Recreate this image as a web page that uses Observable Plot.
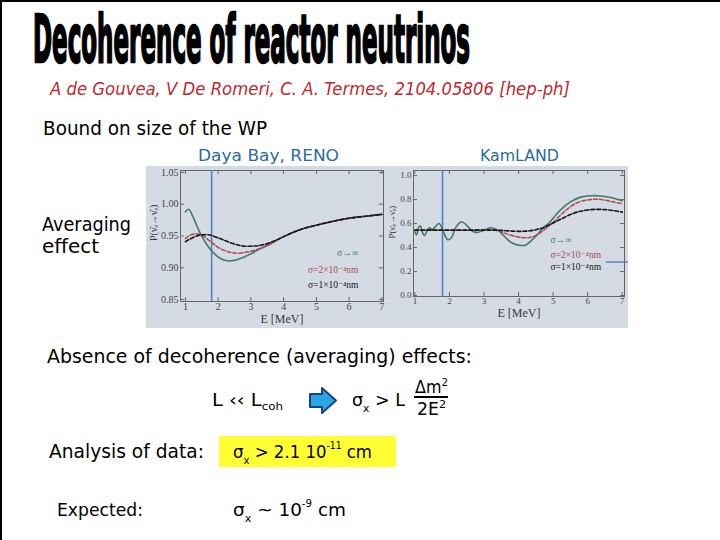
<!DOCTYPE html>
<html><head><meta charset="utf-8">
<script src="https://cdn.jsdelivr.net/npm/d3@7"></script>
<script src="https://cdn.jsdelivr.net/npm/@observablehq/plot@0.6"></script>
<style>
body{margin:0;background:#fff}
#slide{position:relative;width:720px;height:540px;overflow:hidden;background:#fff}
#slide > svg{position:absolute}
</style></head><body><div id="slide"></div>
<script>
// ---- data ----
// Left panel (Daya Bay, RENO)
const leftE    = [1.0, 1.1, 1.25, 1.4, 1.55, 1.7, 1.85, 2.0, 2.2, 2.4, 2.6, 2.8, 3.0, 3.25, 3.5, 3.75, 4.0, 4.5, 5.0, 5.5, 6.0, 6.5, 7.0];
const leftInf  = [0.988, 0.992, 0.978, 0.960, 0.945, 0.933, 0.924, 0.917, 0.912, 0.911, 0.913, 0.917, 0.922, 0.929, 0.935, 0.942, 0.949, 0.960, 0.967, 0.973, 0.978, 0.981, 0.984];
const left2e4  = [0.946, 0.950, 0.953, 0.953, 0.950, 0.944, 0.938, 0.932, 0.927, 0.924, 0.923, 0.924, 0.926, 0.930, 0.935, 0.942, 0.949, 0.960, 0.967, 0.973, 0.978, 0.981, 0.984];
const left1e4  = [0.941, 0.944, 0.948, 0.951, 0.952, 0.952, 0.950, 0.947, 0.943, 0.939, 0.936, 0.934, 0.934, 0.935, 0.938, 0.943, 0.949, 0.960, 0.967, 0.973, 0.978, 0.981, 0.984];
// Right panel (KamLAND)
const rightEInf = [1.00, 1.05, 1.11, 1.16, 1.22, 1.28, 1.35, 1.42, 1.50, 1.58, 1.70, 1.82, 1.95, 2.05, 2.2, 2.35, 2.5, 2.65, 2.8, 3.0, 3.2, 3.4, 3.6, 3.8, 4.0, 4.2, 4.45, 4.7, 4.9, 5.2, 5.5, 5.8, 6.1, 6.4, 6.7, 7.0];
const rightInf  = [0.53, 0.505, 0.57, 0.58, 0.525, 0.50, 0.54, 0.565, 0.55, 0.57, 0.60, 0.535, 0.465, 0.48, 0.575, 0.615, 0.585, 0.54, 0.525, 0.545, 0.565, 0.545, 0.49, 0.44, 0.42, 0.42, 0.48, 0.56, 0.61, 0.71, 0.78, 0.82, 0.832, 0.83, 0.815, 0.79];
const rightE    = [1.0, 1.5, 2.0, 2.5, 3.0, 3.25, 3.5, 3.75, 4.0, 4.25, 4.5, 4.75, 5.0, 5.25, 5.5, 5.75, 6.0, 6.25, 6.5, 6.75, 7.0];
const right2e4  = [0.545, 0.545, 0.545, 0.545, 0.547, 0.55, 0.53, 0.505, 0.488, 0.482, 0.50, 0.55, 0.61, 0.68, 0.74, 0.78, 0.797, 0.803, 0.795, 0.78, 0.765];
const right1e4  = [0.545, 0.545, 0.545, 0.545, 0.545, 0.545, 0.543, 0.538, 0.535, 0.537, 0.548, 0.57, 0.605, 0.64, 0.675, 0.70, 0.713, 0.718, 0.716, 0.708, 0.695];
const blueLineE = [1.8];
const xTicks      = [1, 2, 3, 4, 5, 6, 7];
const leftYTicks  = [0.85, 0.90, 0.95, 1.00, 1.05];
const rightYTicks = [0.0, 0.2, 0.4, 0.6, 0.8, 1.0];
const seriesNames = ["σ→∞", "σ=2×10⁻⁴nm", "σ=1×10⁻⁴nm"];
const xAxisLabel = "E [MeV]";
const yAxisLabel = "P(ν̄ₑ→ν̄ₑ)";

const colInf = "#3d7d62", col2 = "#b04a52", col1 = "#161616";
const axisCol = "#666";

function rows(E, P){ return E.map((e, i) => ({E: e, P: P[i]})); }

function panel(cfg){
  const fw = cfg.width - cfg.marginLeft - cfg.marginRight;
  const fh = cfg.height - cfg.marginTop - cfg.marginBottom;
  const svg = Plot.plot({
    width: cfg.width, height: cfg.height,
    marginLeft: cfg.marginLeft, marginRight: cfg.marginRight,
    marginTop: cfg.marginTop, marginBottom: cfg.marginBottom,
    x: {domain: cfg.xDomain}, y: {domain: cfg.yDomain},
    style: {background: "none", fontFamily: "'Liberation Serif', 'DejaVu Serif', serif", fontSize: cfg.fontSize, color: "#454545", overflow: "visible"},
    marks: [
      Plot.frame({stroke: axisCol}),
      Plot.tickX(xTicks, {x: d => d, insetTop: fh - 4, stroke: axisCol}),
      Plot.tickX(xTicks, {x: d => d, insetBottom: fh - 4, stroke: axisCol}),
      Plot.tickY(cfg.yTicks, {y: d => d, insetRight: fw - 4, stroke: axisCol}),
      Plot.tickY(cfg.yTicks, {y: d => d, insetLeft: fw - 4, stroke: axisCol}),
      Plot.axisX({ticks: xTicks, tickSize: 0, tickPadding: 1, tickFormat: "d", label: null}),
      Plot.axisY({ticks: cfg.yTicks, tickSize: 0, tickPadding: 2, tickFormat: cfg.yFormat, label: null}),
      Plot.ruleX(blueLineE, {x: d => d, stroke: "#4d83c4", strokeWidth: 1.6}),
      Plot.line(rows(cfg.Einf, cfg.inf), {x: "E", y: "P", stroke: colInf, strokeWidth: 1.6, curve: "catmull-rom"}),
      Plot.line(rows(cfg.E, cfg.s2), {x: "E", y: "P", stroke: col2, strokeWidth: 1.5, strokeDasharray: "4,2", curve: "catmull-rom"}),
      Plot.line(rows(cfg.E, cfg.s1), {x: "E", y: "P", stroke: col1, strokeWidth: 1.6, strokeDasharray: "4,2", curve: "catmull-rom"}),
      Plot.text([xAxisLabel], {frameAnchor: "bottom", dy: cfg.xLabelDy, fontSize: 12, fill: "#3a3a3a"}),
      Plot.text([yAxisLabel], {frameAnchor: "left", dx: cfg.yLabelDx, dy: 5, rotate: -90, fontSize: cfg.yLabelSize, fill: "#3a3a3a"}),
      Plot.text([seriesNames[0]], {frameAnchor: "bottom-right", dx: cfg.legDx, dy: cfg.legDy[0], textAnchor: cfg.legAnchor, fill: colInf, fontSize: 9.5}),
      Plot.text([seriesNames[1]], {frameAnchor: "bottom-right", dx: cfg.legDx, dy: cfg.legDy[1], textAnchor: cfg.legAnchor, fill: col2, fontSize: 9.5}),
      Plot.text([seriesNames[2]], {frameAnchor: "bottom-right", dx: cfg.legDx, dy: cfg.legDy[2], textAnchor: cfg.legAnchor, fill: col1, fontSize: 9.5})
    ]
  });
  svg.style.left = cfg.left + "px";
  svg.style.top = cfg.top + "px";
  return svg;
}

const slide = document.getElementById("slide");

// decorative slide layer: texts, photo background, arrow, highlight
const ns = "http://www.w3.org/2000/svg";
const deco = document.createElementNS(ns, "svg");
deco.setAttribute("width", 720); deco.setAttribute("height", 540);
deco.style.left = "0px"; deco.style.top = "0px";
const SANS = "'DejaVu Sans', 'Noto Sans', sans-serif";
deco.innerHTML = `
  <rect x="0" y="0" width="720" height="2" fill="#000"/>
  <rect x="0" y="0" width="2" height="540" fill="#000"/>
  <text transform="translate(33,62) scale(1,2.75)" x="0" y="0" font-family="'DejaVu Sans Condensed','DejaVu Sans',sans-serif" font-weight="bold" font-size="24" textLength="437" lengthAdjust="spacingAndGlyphs" stroke="#000" stroke-width="0.9" fill="#000">Decoherence of reactor neutrinos</text>
  <text x="50" y="95" font-family="${SANS}" font-style="italic" font-size="17" fill="#c0282e" textLength="520" lengthAdjust="spacingAndGlyphs">A de Gouvea, V De Romeri, C. A. Termes, 2104.05806 [hep-ph]</text>
  <text x="43" y="135" font-family="${SANS}" font-size="19" fill="#000" textLength="224" lengthAdjust="spacingAndGlyphs">Bound on size of the WP</text>
  <text x="198" y="161" font-family="${SANS}" font-size="16" fill="#2b6c9b" textLength="141" lengthAdjust="spacingAndGlyphs">Daya Bay, RENO</text>
  <text x="480" y="161" font-family="${SANS}" font-size="16" fill="#2b6c9b" textLength="79" lengthAdjust="spacingAndGlyphs">KamLAND</text>
  <rect x="146" y="166" width="482" height="162" fill="#d5dbe5"/>
  <line x1="606" y1="262" x2="628" y2="262" stroke="#5a86c0" stroke-width="1.5"/>
  <text x="42" y="231" font-family="${SANS}" font-size="19" fill="#000" textLength="89" lengthAdjust="spacingAndGlyphs">Averaging</text>
  <text x="42" y="253" font-family="${SANS}" font-size="19" fill="#000" textLength="57" lengthAdjust="spacingAndGlyphs">effect</text>
  <text x="47" y="363" font-family="${SANS}" font-size="20" fill="#000" textLength="425" lengthAdjust="spacingAndGlyphs">Absence of decoherence (averaging) effects:</text>
  <text x="212" y="406" font-family="${SANS}" font-size="18" fill="#000" textLength="71" lengthAdjust="spacingAndGlyphs">L ‹‹ L<tspan dy="4" font-size="11">coh</tspan></text>
  <polygon points="310,394 322,394 322,388 336,400.5 322,413 322,407 310,407" fill="#2aa7e1" stroke="#1d3f8f" stroke-width="2" stroke-linejoin="round"/>
  <text x="352" y="406" font-family="${SANS}" font-size="18" fill="#000" textLength="53" lengthAdjust="spacingAndGlyphs">σ<tspan dy="6" font-size="11">x</tspan><tspan dy="-6"> &gt; L</tspan></text>
  <text x="415" y="393" font-family="${SANS}" font-size="17" fill="#000" textLength="33" lengthAdjust="spacingAndGlyphs">Δm<tspan dy="-7" font-size="11">2</tspan></text>
  <line x1="414" y1="397" x2="448" y2="397" stroke="#000" stroke-width="2"/>
  <text x="417" y="415" font-family="${SANS}" font-size="17" fill="#000" textLength="29" lengthAdjust="spacingAndGlyphs">2E<tspan dy="-7" font-size="11">2</tspan></text>
  <text x="49" y="458" font-family="${SANS}" font-size="19" fill="#000" textLength="155" lengthAdjust="spacingAndGlyphs">Analysis of data:</text>
  <rect x="219" y="436" width="177" height="31" fill="#ffff33"/>
  <text x="233" y="458" font-family="${SANS}" font-size="18" fill="#000" textLength="139" lengthAdjust="spacingAndGlyphs">σ<tspan dy="6" font-size="11">x</tspan><tspan dy="-6"> &gt; 2.1 10</tspan><tspan dy="-9" font-size="10">-11</tspan><tspan dy="9"> cm</tspan></text>
  <text x="57" y="516" font-family="${SANS}" font-size="17" fill="#000" textLength="86" lengthAdjust="spacingAndGlyphs">Expected:</text>
  <text x="233" y="516" font-family="${SANS}" font-size="18" fill="#000" textLength="113" lengthAdjust="spacingAndGlyphs">σ<tspan dy="6" font-size="11">x</tspan><tspan dy="-6"> ~ 10</tspan><tspan dy="-9" font-size="10">-9</tspan><tspan dy="9"> cm</tspan></text>
`;
slide.appendChild(deco);

slide.appendChild(panel({
  left: 146, top: 166, width: 239, height: 162,
  marginLeft: 34, marginRight: 2, marginTop: 4, marginBottom: 27,
  xDomain: [0.85, 7.05], yDomain: [0.847, 1.053],
  yTicks: leftYTicks, yFormat: ".2f", fontSize: "10px",
  Einf: leftE, inf: leftInf, E: leftE, s2: left2e4, s1: left1e4,
  xLabelDy: 21, yLabelDx: -27, yLabelSize: 10,
  legDx: -25, legDy: [-46, -29, -14], legAnchor: "end"
}));

slide.appendChild(panel({
  left: 386, top: 166, width: 242, height: 162,
  marginLeft: 27, marginRight: 4, marginTop: 4, marginBottom: 32,
  xDomain: [0.96, 7.065], yDomain: [-0.008, 1.042],
  yTicks: rightYTicks, yFormat: ".1f", fontSize: "9px",
  Einf: rightEInf, inf: rightInf, E: rightE, s2: right2e4, s1: right1e4,
  xLabelDy: 20, yLabelDx: -21, yLabelSize: 9,
  legDx: -74, legDy: [-54, -39, -27], legAnchor: "start"
}));
</script></body></html>
